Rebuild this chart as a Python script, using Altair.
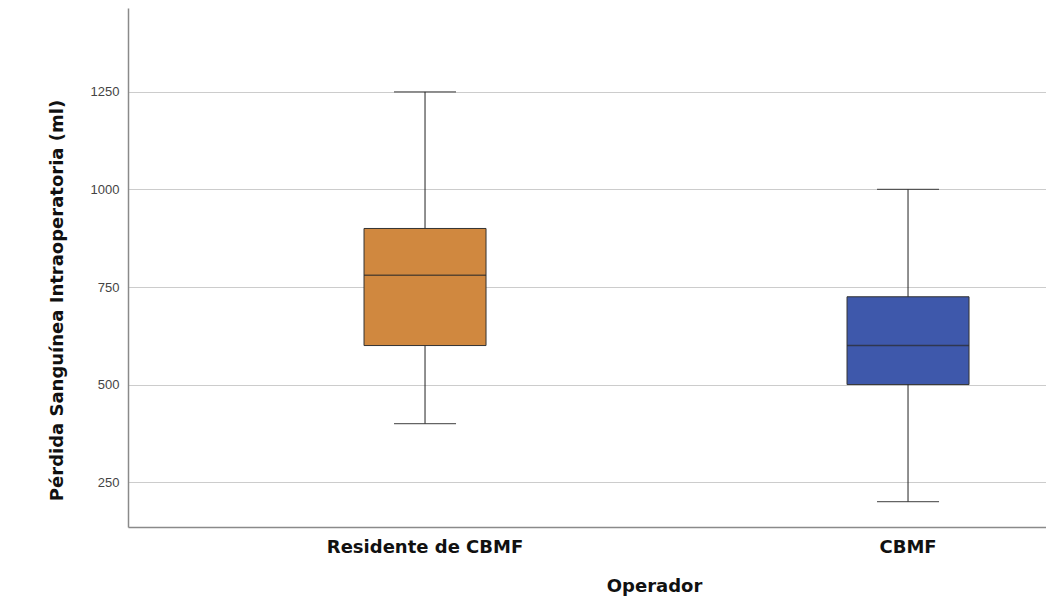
import altair as alt
import pandas as pd

groups = ["Residente de CBMF", "CBMF"]
mins = [400, 200]
q1s = [600, 500]
medians = [780, 600]
q3s = [900, 725]
maxs = [1250, 1000]
fills = ["#D0883F", "#3E58AB"]
y_ticks = [250, 500, 750, 1000, 1250]

df = pd.DataFrame({
    "Operador": groups,
    "min": mins,
    "q1": q1s,
    "median": medians,
    "q3": q3s,
    "max": maxs,
})

FONT_T = "DejaVu Sans"
x_scale = alt.Scale(domain=groups, paddingInner=0.5, paddingOuter=0.2003, align=0.911, round=False)
y_scale = alt.Scale(domain=[135, 1465], nice=False, zero=False)

x_enc = alt.X(
    "Operador:N", scale=x_scale, sort=groups,
    axis=alt.Axis(
        title="Operador", labelAngle=0, ticks=False, grid=False, labelLimit=0,
        labelFont=FONT_T, labelFontSize=18, labelFontWeight="bold", labelColor="#111",
        labelPadding=11, labelBaseline="top",
        titleFont=FONT_T, titleFontSize=18, titleFontWeight="bold", titleColor="#111",
        titleX=526, titleY=50, titleBaseline="top", titleAlign="center",
        domainColor="#8a8a8a", domainWidth=1.5,
    ),
)

y_axis = alt.Axis(
    title="Pérdida Sanguínea Intraoperatoria (ml)", values=y_ticks, ticks=False, format="d",
    grid=True, gridColor="#cccccc", gridWidth=1,
    labelFont="Liberation Sans", labelFontSize=13, labelColor="#444", labelPadding=9,
    titleFont=FONT_T, titleFontSize=18, titleFontWeight="bold", titleColor="#111",
    titleX=-62, titleY=292, titleAngle=-90, titleAlign="center", titleBaseline="bottom",
    domainColor="#8a8a8a", domainWidth=1.5,
)

base = alt.Chart(df)

whisker = base.mark_rule(color="#222", strokeWidth=1).encode(
    x=x_enc,
    y=alt.Y("min:Q", scale=y_scale, axis=y_axis),
    y2="max:Q",
)

box = base.mark_bar(size=122, stroke="#333", strokeWidth=1).encode(
    x=alt.X("Operador:N", scale=x_scale, sort=groups),
    y=alt.Y("q1:Q", scale=y_scale),
    y2="q3:Q",
    color=alt.Color("Operador:N", scale=alt.Scale(domain=groups, range=fills), legend=None),
)

median = base.mark_tick(size=122, thickness=1.5, color="#2a2a2a").encode(
    x=alt.X("Operador:N", scale=x_scale, sort=groups),
    y=alt.Y("median:Q", scale=y_scale),
)

cap_lo = base.mark_tick(size=62, thickness=1.2, color="#222").encode(
    x=alt.X("Operador:N", scale=x_scale, sort=groups),
    y=alt.Y("min:Q", scale=y_scale),
)
cap_hi = base.mark_tick(size=62, thickness=1.2, color="#222").encode(
    x=alt.X("Operador:N", scale=x_scale, sort=groups),
    y=alt.Y("max:Q", scale=y_scale),
)

chart = alt.layer(whisker, box, median, cap_lo, cap_hi).properties(
    width=918,
    height=519,
    autosize=alt.AutoSizeParams(type="none"),
    padding={"left": 120, "top": 0, "right": 0, "bottom": 74},
    background="white",
).configure_view(stroke=None)

chart.save("out.html", embed_options={"renderer": "svg", "actions": False})
